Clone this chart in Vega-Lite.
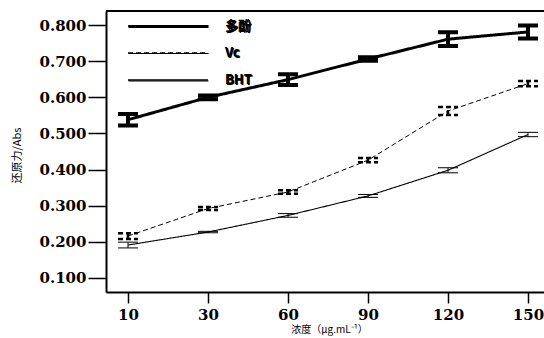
{
  "$schema": "https://vega.github.io/schema/vega-lite/v6.json",
  "width": 438,
  "height": 281,
  "autosize": "none",
  "padding": {"left": 106, "top": 11, "right": 0, "bottom": 46},
  "background": "white",
  "config": {
    "view": {"stroke": null},
    "axis": {"domainColor": "black", "tickColor": "black", "labelColor": "black", "titleColor": "black", "grid": false}
  },
  "data": {
    "values": [
      {"conc": "10", "series": "多酚", "mean": 0.538, "lo": 0.522, "hi": 0.554},
      {"conc": "30", "series": "多酚", "mean": 0.600, "lo": 0.595, "hi": 0.605},
      {"conc": "60", "series": "多酚", "mean": 0.649, "lo": 0.634, "hi": 0.664},
      {"conc": "90", "series": "多酚", "mean": 0.706, "lo": 0.701, "hi": 0.711},
      {"conc": "120", "series": "多酚", "mean": 0.761, "lo": 0.742, "hi": 0.780},
      {"conc": "150", "series": "多酚", "mean": 0.781, "lo": 0.763, "hi": 0.799},
      {"conc": "10", "series": "Vc", "mean": 0.216, "lo": 0.208, "hi": 0.224},
      {"conc": "30", "series": "Vc", "mean": 0.292, "lo": 0.288, "hi": 0.296},
      {"conc": "60", "series": "Vc", "mean": 0.338, "lo": 0.333, "hi": 0.343},
      {"conc": "90", "series": "Vc", "mean": 0.426, "lo": 0.420, "hi": 0.432},
      {"conc": "120", "series": "Vc", "mean": 0.562, "lo": 0.551, "hi": 0.573},
      {"conc": "150", "series": "Vc", "mean": 0.638, "lo": 0.631, "hi": 0.645},
      {"conc": "10", "series": "BHT", "mean": 0.191, "lo": 0.183, "hi": 0.199},
      {"conc": "30", "series": "BHT", "mean": 0.227, "lo": 0.225, "hi": 0.229},
      {"conc": "60", "series": "BHT", "mean": 0.273, "lo": 0.268, "hi": 0.278},
      {"conc": "90", "series": "BHT", "mean": 0.327, "lo": 0.323, "hi": 0.331},
      {"conc": "120", "series": "BHT", "mean": 0.398, "lo": 0.391, "hi": 0.405},
      {"conc": "150", "series": "BHT", "mean": 0.497, "lo": 0.491, "hi": 0.503}
    ]
  },
  "layer": [
    {
      "mark": {"type": "line", "color": "black"},
      "encoding": {
        "x": {
          "field": "conc", "type": "ordinal", "sort": ["10", "30", "60", "90", "120", "150"],
          "scale": {"type": "point", "padding": 0.2375, "align": 0.579},
          "axis": {
            "title": "浓度（μg.mL⁻¹）", "titleFont": "Noto Sans CJK SC", "titleFontSize": 10, "titleFontWeight": "normal",
            "titleX": 223, "titleY": 37, "titleBaseline": "middle",
            "labelFont": "DejaVu Serif", "labelFontSize": 15, "labelFontWeight": "bold", "labelPadding": 4, "labelAngle": 0,
            "tickSize": 11, "tickWidth": 1.5, "domainWidth": 2
          }
        },
        "y": {
          "field": "mean", "type": "quantitative",
          "scale": {"domain": [0.061, 0.839], "nice": false, "zero": false},
          "axis": {
            "title": "还原力/Abs", "titleFont": "Noto Sans CJK SC", "titleFontSize": 11, "titleFontWeight": "normal",
            "titleX": -89, "titleY": 144, "titleBaseline": "middle", "titleAngle": -90,
            "values": [0.1, 0.2, 0.3, 0.4, 0.5, 0.6, 0.7, 0.8], "format": ".3f",
            "labelFont": "DejaVu Serif", "labelFontSize": 15, "labelFontWeight": "bold", "labelPadding": 2,
            "tickSize": 18, "tickWidth": 1.5, "domainWidth": 2
          }
        },
        "strokeWidth": {
          "field": "series", "type": "nominal",
          "scale": {"type": "ordinal", "domain": ["多酚", "Vc", "BHT"], "range": [3, 1, 1.1]},
          "legend": {
            "title": null, "orient": "none", "legendX": 51, "legendY": 4,
            "symbolType": "M-4,0H4", "symbolSize": 400, "symbolStrokeColor": "black", "symbolFillColor": "transparent",
            "labelFont": "Noto Sans CJK SC", "labelFontSize": 13, "labelFontWeight": "bold", "labelOffset": 46,
            "rowPadding": 9
          }
        },
        "strokeDash": {
          "field": "series", "type": "nominal",
          "scale": {"domain": ["多酚", "Vc", "BHT"], "range": [[1, 0], [5, 3], [1, 0]]},
          "legend": {
            "title": null, "orient": "none", "legendX": 51, "legendY": 4,
            "symbolType": "M-4,0H4", "symbolSize": 400, "symbolStrokeColor": "black", "symbolFillColor": "transparent",
            "labelFont": "Noto Sans CJK SC", "labelFontSize": 13, "labelFontWeight": "bold", "labelOffset": 46,
            "rowPadding": 9
          }
        },
        "detail": {"field": "series"}
      }
    },
    {
      "mark": {"type": "rule", "color": "black"},
      "encoding": {
        "y": {"datum": 0.839, "type": "quantitative"},
        "strokeWidth": {"value": 2}
      }
    },
    {
      "mark": {"type": "rule", "color": "black"},
      "encoding": {
        "x": {"field": "conc", "type": "ordinal", "sort": ["10", "30", "60", "90", "120", "150"]},
        "y": {"field": "lo", "type": "quantitative"},
        "y2": {"field": "hi"},
        "strokeWidth": {"field": "series", "type": "nominal", "legend": null},
        "strokeDash": {"field": "series", "type": "nominal", "legend": null}
      }
    },
    {
      "mark": {"type": "rule", "color": "black", "xOffset": -10, "x2Offset": 10},
      "encoding": {
        "x": {"field": "conc", "type": "ordinal", "sort": ["10", "30", "60", "90", "120", "150"]},
        "x2": {"field": "conc"},
        "y": {"field": "lo", "type": "quantitative"},
        "strokeWidth": {"field": "series", "type": "nominal", "legend": null},
        "strokeDash": {"field": "series", "type": "nominal", "legend": null}
      }
    },
    {
      "mark": {"type": "rule", "color": "black", "xOffset": -10, "x2Offset": 10},
      "encoding": {
        "x": {"field": "conc", "type": "ordinal", "sort": ["10", "30", "60", "90", "120", "150"]},
        "x2": {"field": "conc"},
        "y": {"field": "hi", "type": "quantitative"},
        "strokeWidth": {"field": "series", "type": "nominal", "legend": null},
        "strokeDash": {"field": "series", "type": "nominal", "legend": null}
      }
    }
  ]
}
